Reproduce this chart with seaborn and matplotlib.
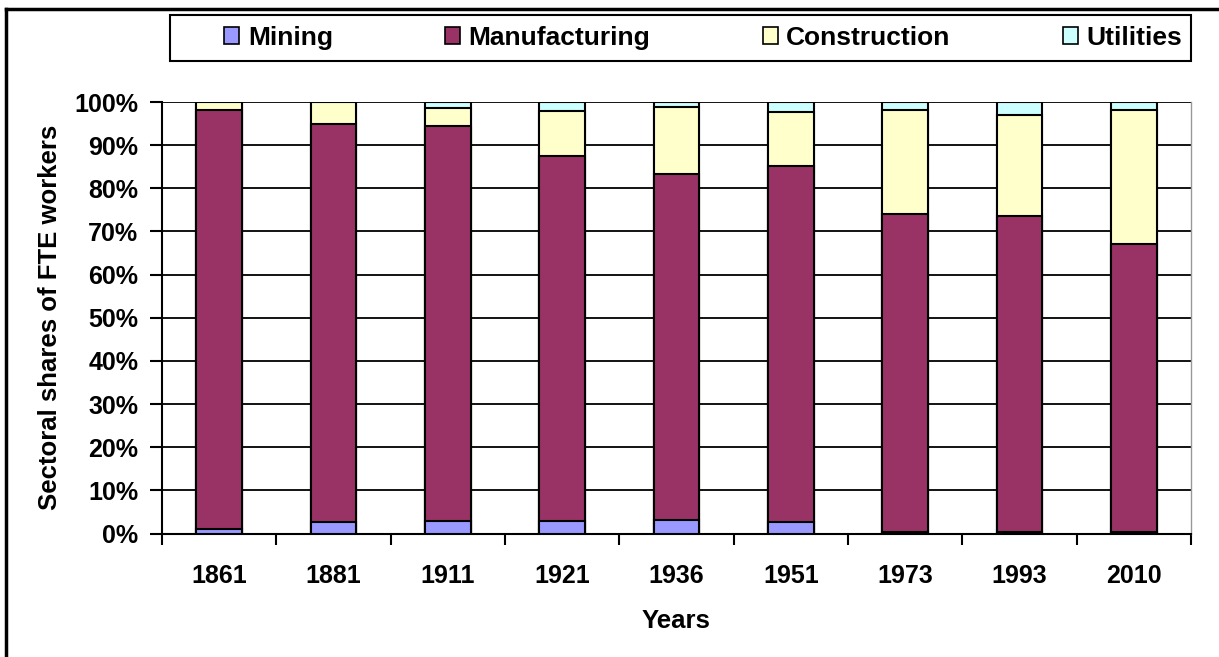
import numpy as np
import pandas as pd
import seaborn as sns
import matplotlib.pyplot as plt
from matplotlib.lines import Line2D
from matplotlib.patches import Patch, Rectangle
from matplotlib.ticker import FixedLocator

years = ["1861", "1881", "1911", "1921", "1936", "1951", "1973", "1993", "2010"]
sectors = ["Mining", "Manufacturing", "Construction", "Utilities"]
mining = [1.1, 2.7, 3.0, 3.0, 3.1, 2.7, 0.3, 0.3, 0.3]
manufacturing = [97.0, 92.2, 91.4, 84.5, 80.2, 82.4, 73.7, 73.2, 66.7]
construction = [1.9, 5.1, 4.2, 10.5, 15.6, 12.5, 24.1, 23.6, 31.1]
utilities = [0.0, 0.0, 1.4, 2.0, 1.1, 2.4, 1.9, 2.9, 1.9]
colors = ["#9999FF", "#993366", "#FFFFCC", "#CCFFFF"]

df = pd.DataFrame({"year": years, "Mining": mining, "Manufacturing": manufacturing,
                   "Construction": construction, "Utilities": utilities})
cum = df[sectors].cumsum(axis=1)
cum["year"] = df["year"]

plt.rcParams["font.family"] = ["Liberation Sans", "DejaVu Sans"]
plt.rcParams["font.weight"] = "bold"

W, H = 1219, 657
fig = plt.figure(figsize=(W / 100, H / 100), dpi=100)
ax = fig.add_axes([162 / W, 1 - 533.5 / H, (1191 - 162) / W, (533.5 - 102) / H])

# stacked bars: draw cumulative totals from the top sector down
for sector, color in zip(sectors[::-1], colors[::-1]):
    sns.barplot(data=cum, x="year", y=sector, color=color, width=0.4,
                edgecolor="black", linewidth=1.5, saturation=1, ax=ax, zorder=3)

ax.set_ylim(0, 100)
ax.set_xlim(-0.5, len(years) - 0.5)
ax.set_yticks(np.arange(0, 101, 10))
ax.set_yticklabels([f"{v}%" for v in range(0, 101, 10)])
ax.yaxis.grid(True, color="black", linewidth=1.3, zorder=0)
ax.set_axisbelow(True)

ax.xaxis.set_minor_locator(FixedLocator(np.arange(-0.5, len(years), 1)))
ax.tick_params(axis="x", which="major", length=0, pad=22, labelsize=18)
ax.tick_params(axis="x", which="minor", length=8, width=1.5, color="black")
ax.tick_params(axis="y", length=9, width=1.5, pad=8, labelsize=18)

for s in ["left", "bottom"]:
    ax.spines[s].set_color("black")
    ax.spines[s].set_linewidth(1.5)
ax.spines["top"].set_visible(False)
ax.spines["right"].set_color("#999999")
ax.spines["right"].set_linewidth(1)

ax.set_xlabel("Years", fontsize=18.5, fontweight="bold")
ax.set_ylabel("Sectoral shares of FTE workers", fontsize=18.5, fontweight="bold")
ax.xaxis.set_label_coords(0.5, -0.175)
ax.yaxis.set_label_coords(-0.097, 0.5)

# legend box
fig.add_artist(Rectangle((170 / W, 1 - 61 / H), (1191 - 170) / W, 46 / H,
                         transform=fig.transFigure, facecolor="white",
                         edgecolor="black", linewidth=1.5))
handles = [Patch(facecolor=c, edgecolor="black", linewidth=1.2) for c in colors]
leg = fig.legend(handles, sectors, ncol=4, loc="center left",
                 bbox_to_anchor=(224 / W, 1 - 38 / H), frameon=False,
                 borderpad=0, borderaxespad=0, handlelength=0.58, handleheight=0.58,
                 handletextpad=0.32, columnspacing=4.25,
                 prop={"size": 19, "weight": "bold"})

# chart-area border (left and top visible)
fig.add_artist(Line2D([6 / W, 6 / W], [0, 1 - 9 / H], color="black", lw=2.5))
fig.add_artist(Line2D([6 / W, 1], [1 - 9 / H, 1 - 9 / H], color="black", lw=2.5))

fig.savefig("out.png", dpi=100)
